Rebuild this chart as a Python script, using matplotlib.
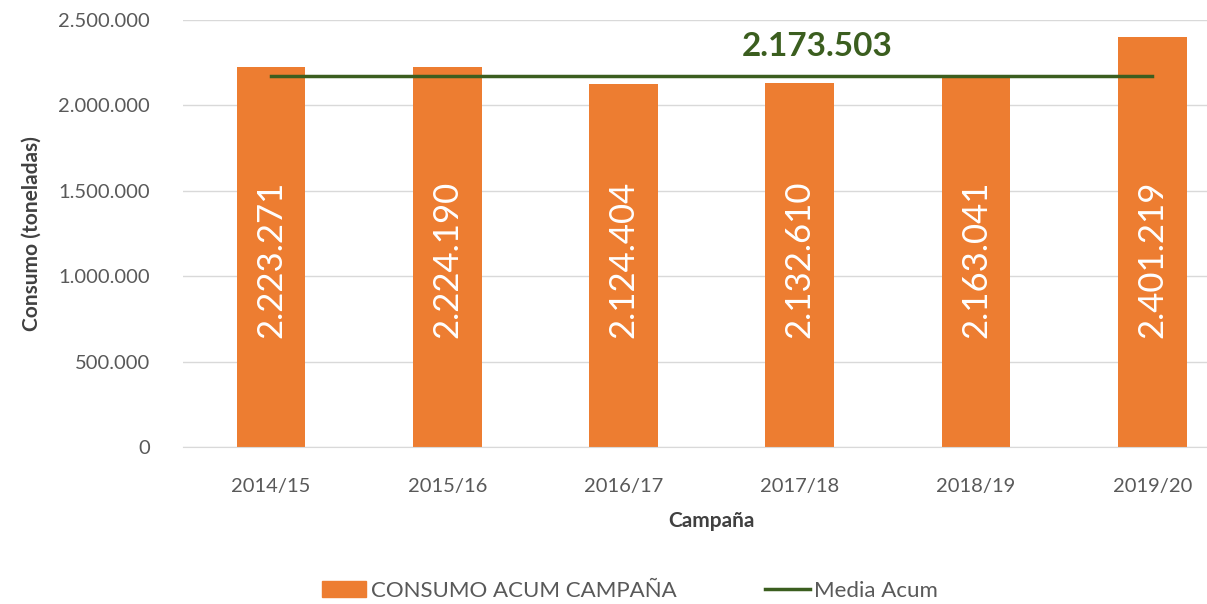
import matplotlib.pyplot as plt
from matplotlib.patches import Patch
from matplotlib.lines import Line2D

campanas = ['2014/15', '2015/16', '2016/17', '2017/18', '2018/19', '2019/20']
consumo = [2223271, 2224190, 2124404, 2132610, 2163041, 2401219]
media = 2173503

naranja = '#ED7D31'
verde = '#3B5E1F'


def fmt(v):
    return f'{v:,.0f}'.replace(',', '.')


plt.rcParams['font.family'] = ['Lato', 'DejaVu Sans']

fig = plt.figure(figsize=(12.07, 6.04), dpi=100)
ax = fig.add_axes([0.1516, 0.26, 0.876, 0.707])

x = list(range(len(campanas)))
ax.bar(x, consumo, width=0.39, color=naranja, zorder=2)
ax.plot([x[0], x[-1]], [media, media], color=verde, lw=2.5, zorder=3)

for xi, v in zip(x, consumo):
    ax.text(xi, 1100000, fmt(v), rotation=90, ha='center', va='center',
            color='white', fontsize=25, zorder=4)

ax.text(3.1, media + 170000, fmt(media), ha='center', va='center',
        color=verde, fontsize=24, fontweight='bold', zorder=4)

ax.set_xlim(-0.5, 5.5)
ax.set_ylim(0, 2500000)
ax.set_yticks(range(0, 2500001, 500000))
ax.set_yticklabels([fmt(t) for t in range(0, 2500001, 500000)])
ax.set_xticks(x)
ax.set_xticklabels(campanas)
ax.tick_params(axis='both', length=0, labelsize=14.5, colors='#595959')
ax.tick_params(axis='x', pad=22)
ax.tick_params(axis='y', pad=24)
ax.grid(axis='y', color='#D9D9D9', lw=1, zorder=0)
for s in ['top', 'right', 'left']:
    ax.spines[s].set_visible(False)
ax.spines['bottom'].set_color('#D9D9D9')

ax.set_ylabel('Consumo (toneladas)', fontsize=15, fontweight='bold',
              color='#404040', labelpad=12)
ax.set_xlabel('Campaña', fontsize=15, fontweight='bold', color='#404040',
              labelpad=12)

handles = [Patch(color=naranja, label='CONSUMO ACUM CAMPAÑA'),
           Line2D([], [], color=verde, lw=2.5, label='Media Acum')]
fig.legend(handles=handles, loc='center', bbox_to_anchor=(0.522, 0.022),
           ncol=2, frameon=False, fontsize=16, labelcolor='#595959',
           handlelength=2.0, handletextpad=0.2, columnspacing=4)

fig.savefig('out.png', dpi=100)
